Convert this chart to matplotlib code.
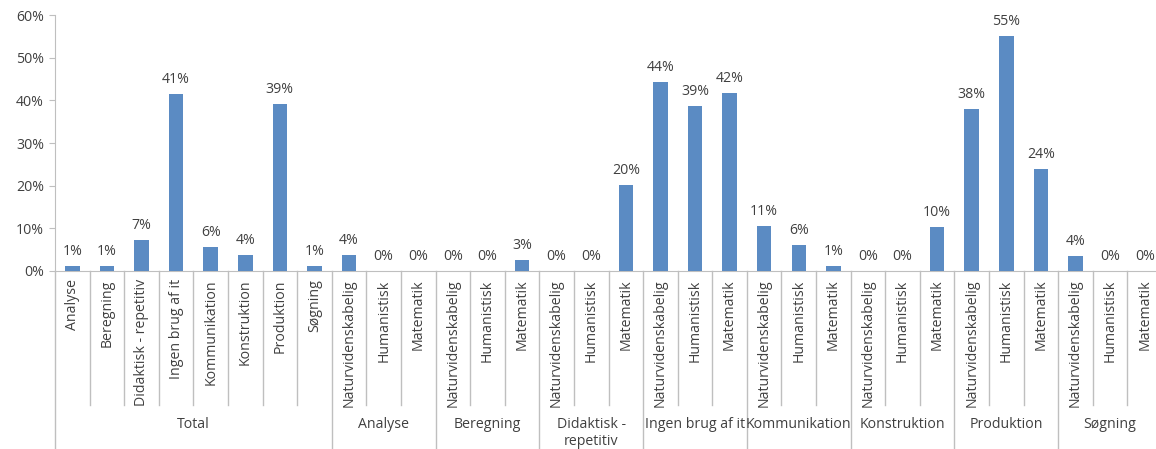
import matplotlib
matplotlib.use("Agg")
import matplotlib.pyplot as plt
from matplotlib.transforms import blended_transform_factory

plt.rcParams['font.family'] = ['Open Sans', 'DejaVu Sans']

groups = ["Total", "Analyse", "Beregning", "Didaktisk -\nrepetitiv", "Ingen brug af it",
          "Kommunikation", "Konstruktion", "Produktion", "Søgning"]
total_cats = ["Analyse", "Beregning", "Didaktisk - repetitiv", "Ingen brug af it",
              "Kommunikation", "Konstruktion", "Produktion", "Søgning"]
sub_cats = ["Naturvidenskabelig", "Humanistisk", "Matematik"]

total_vals = [1.1, 1.1, 7.3, 41.4, 5.6, 3.7, 39.2, 1.1]
group_vals = [
    [3.7, 0.0, 0.0],      # Analyse
    [0.0, 0.0, 2.6],      # Beregning
    [0.0, 0.0, 20.1],     # Didaktisk - repetitiv
    [44.3, 38.6, 41.8],   # Ingen brug af it
    [10.6, 6.2, 1.2],     # Kommunikation
    [0.0, 0.0, 10.4],     # Konstruktion
    [37.9, 55.1, 23.9],   # Produktion
    [3.6, 0.0, 0.0],      # Søgning
]

labels = list(total_cats)
values = list(total_vals)
group_sizes = [len(total_cats)]
for gv in group_vals:
    labels += sub_cats
    values += gv
    group_sizes.append(len(gv))

n = len(values)
x = list(range(n))

text_col = "#404040"
line_col = "#BFBFBF"
bar_col = "#5B8BC3"
fs = 10.2

fig = plt.figure(figsize=(11.56, 4.49), dpi=100)
ax = fig.add_axes([55/1156, 1 - 271/449, (1162-55)/1156, 256/449])

bars = ax.bar(x, values, width=0.42, color=bar_col, zorder=3)
for xi, v in zip(x, values):
    ax.annotate(f"{v:.0f}%", (xi, v), xytext=(0, 5), textcoords="offset points",
                ha="center", va="bottom", fontsize=fs, color=text_col)

ax.set_xlim(-0.5, n - 0.5)
ax.set_ylim(0, 60)
ax.set_yticks(range(0, 61, 10))
ax.set_yticklabels([f"{t}%" for t in range(0, 61, 10)], fontsize=fs, color=text_col)
ax.tick_params(axis="y", length=4, color=line_col, pad=4)

ax.set_xticks(x)
ax.set_xticklabels(labels, rotation=90, fontsize=fs, color=text_col, va="top", ha="center")
ax.tick_params(axis="x", length=0, pad=6)

for s in ["top", "right"]:
    ax.spines[s].set_visible(False)
ax.spines["left"].set_color(line_col)
ax.spines["bottom"].set_color(line_col)

trans = blended_transform_factory(ax.transData, ax.transAxes)
inner_bottom = -134/256
outer_bottom = -178/256

boundaries = [i - 0.5 for i in range(n + 1)]
group_edges = [-0.5]
acc = -0.5
for g in group_sizes:
    acc += g
    group_edges.append(acc)

for b in boundaries:
    is_group = any(abs(b - ge) < 1e-9 for ge in group_edges)
    yb = outer_bottom if is_group else inner_bottom
    ax.plot([b, b], [0, yb], transform=trans, color=line_col, lw=1, clip_on=False)

for gi, g in enumerate(groups):
    left = group_edges[gi]
    right = group_edges[gi + 1]
    ax.text((left + right) / 2, -146/256, g, transform=trans, ha="center", va="top",
            fontsize=fs, color=text_col, linespacing=1.2)

fig.savefig("out.png", dpi=100)
